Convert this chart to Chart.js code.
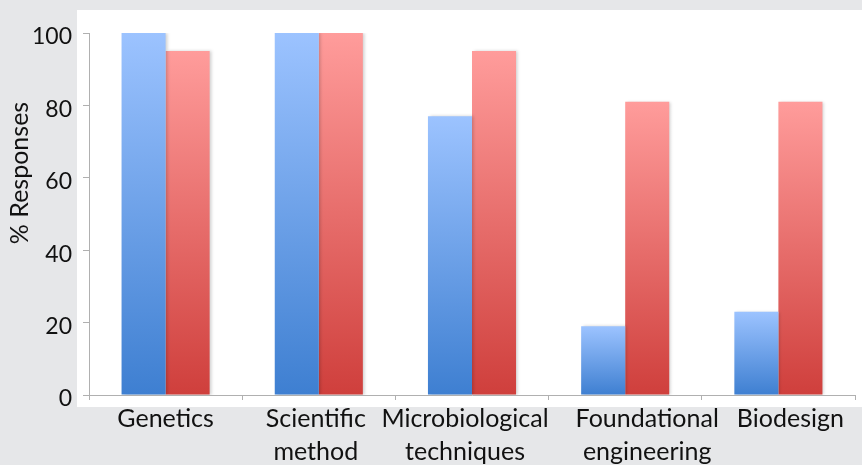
<!DOCTYPE html>
<html>
<head>
<meta charset="utf-8">
<script src="https://cdn.jsdelivr.net/npm/chart.js@4"></script>
<style>
  html, body { margin: 0; padding: 0; background: #e6e7e9; }
  #wrap { width: 862px; height: 465px; }
</style>
</head>
<body>
<div id="wrap"><canvas id="myChart"></canvas></div>
<script>
// categories and values
const categories = [
  "Genetics",
  ["Scientific", "method"],
  ["Microbiological", "techniques"],
  ["Foundational", "engineering"],
  "Biodesign"
];
const blueValues = [100, 100, 77, 19, 23];
const redValues = [95, 100, 95, 81, 81];
const yTicks = [0, 20, 40, 60, 80, 100];

const FONT = "Lato, 'Open Sans', sans-serif";

// vertical gradient per bar, light at the top, darker at the base
function barGradient(topColor, bottomColor) {
  return function (context) {
    const chart = context.chart;
    const area = chart.chartArea;
    if (!area || context.parsed === undefined) return bottomColor;
    const y = chart.scales.y;
    const top = y.getPixelForValue(context.parsed.y);
    const base = y.getPixelForValue(0);
    if (base - top < 1) return bottomColor;
    const g = chart.ctx.createLinearGradient(0, top, 0, base);
    g.addColorStop(0, topColor);
    g.addColorStop(1, bottomColor);
    return g;
  };
}

const panelBackground = {
  id: 'panelBackground',
  beforeDraw(chart) {
    const ctx = chart.ctx;
    const a = chart.chartArea;
    ctx.save();
    ctx.fillStyle = '#e6e7e9';
    ctx.fillRect(0, 0, chart.width, chart.height);
    ctx.fillStyle = '#ffffff';
    ctx.fillRect(a.left - 12, a.top - 23, chart.width - (a.left - 12), a.bottom - a.top + 35);
    ctx.restore();
  }
};

const barShadow = {
  id: 'barShadow',
  beforeDatasetsDraw(chart) {
    const ctx = chart.ctx;
    ctx.save();
    ctx.shadowColor = 'rgba(0,0,0,0.18)';
    ctx.shadowBlur = 3;
    ctx.shadowOffsetX = 2;
    ctx.shadowOffsetY = 0;
  },
  afterDatasetsDraw(chart) {
    chart.ctx.restore();
  }
};

const yTitle = {
  id: 'yTitle',
  afterDraw(chart) {
    const ctx = chart.ctx;
    const a = chart.chartArea;
    ctx.save();
    ctx.translate(20, (a.top + a.bottom) / 2 - 41);
    ctx.rotate(-Math.PI / 2);
    ctx.font = "25px " + FONT;
    ctx.fillStyle = '#111';
    ctx.textAlign = 'center';
    ctx.textBaseline = 'middle';
    ctx.fillText('% Responses', 0, 0);
    ctx.restore();
  }
};

// category labels, nudged sideways like the original so neighbours don't collide
const xLabels = {
  id: 'xLabels',
  afterDraw(chart, args, opts) {
    const ctx = chart.ctx;
    const x = chart.scales.x;
    const nudge = opts.nudge || [];
    ctx.save();
    ctx.font = "25px " + FONT;
    ctx.fillStyle = '#111';
    ctx.textAlign = 'center';
    ctx.textBaseline = 'middle';
    chart.data.labels.forEach((lab, i) => {
      const lines = Array.isArray(lab) ? lab : [lab];
      const cx = x.getPixelForValue(i) + (nudge[i] || 0);
      lines.forEach((line, j) => {
        ctx.fillText(line, cx, x.top + 24 + j * 33);
      });
    });
    ctx.restore();
  }
};

const data = {
  labels: categories,
  datasets: [
    {
      label: 'Series 1',
      data: blueValues,
      backgroundColor: barGradient('#9cc3ff', '#3e7fd1'),
      borderWidth: 0
    },
    {
      label: 'Series 2',
      data: redValues,
      backgroundColor: barGradient('#ff9c9b', '#cf3f3c'),
      borderWidth: 0
    }
  ]
};

const config = {
  type: 'bar',
  data: data,
  plugins: [panelBackground, barShadow, yTitle, xLabels],
  options: {
    responsive: true,
    maintainAspectRatio: false,
    animation: false,
    datasets: {
      bar: { categoryPercentage: 0.575, barPercentage: 1.0 }
    },
    layout: {
      padding: { top: 33, right: 7, left: 0, bottom: 0 }
    },
    plugins: {
      legend: { display: false },
      tooltip: { enabled: false },
      xLabels: { nudge: [0, -3, -7, 22, 12] }
    },
    scales: {
      x: {
        grid: {
          offset: true,
          drawOnChartArea: false,
          drawTicks: true,
          tickLength: 5,
          color: '#b0b0b0'
        },
        border: { color: '#b0b0b0', width: 1 },
        ticks: {
          color: 'rgba(0,0,0,0)',
          padding: 1,
          maxRotation: 0,
          autoSkip: false,
          font: { family: FONT, size: 25, lineHeight: 1.32 }
        },
        afterFit(scale) { scale.height = 70; }
      },
      y: {
        min: 0,
        max: 100,
        afterBuildTicks(scale) {
          scale.ticks = yTicks.map(v => ({ value: v }));
        },
        grid: {
          drawOnChartArea: false,
          drawTicks: true,
          tickLength: 6,
          color: '#b0b0b0'
        },
        border: { color: '#b0b0b0', width: 1 },
        ticks: {
          color: '#111',
          padding: 11,
          labelOffset: 4,
          font: { family: FONT, size: 23 }
        },
        afterFit(scale) { scale.width = 89; }
      }
    }
  }
};

const myChart = new Chart(document.getElementById('myChart'), config);
</script>
</body>
</html>
